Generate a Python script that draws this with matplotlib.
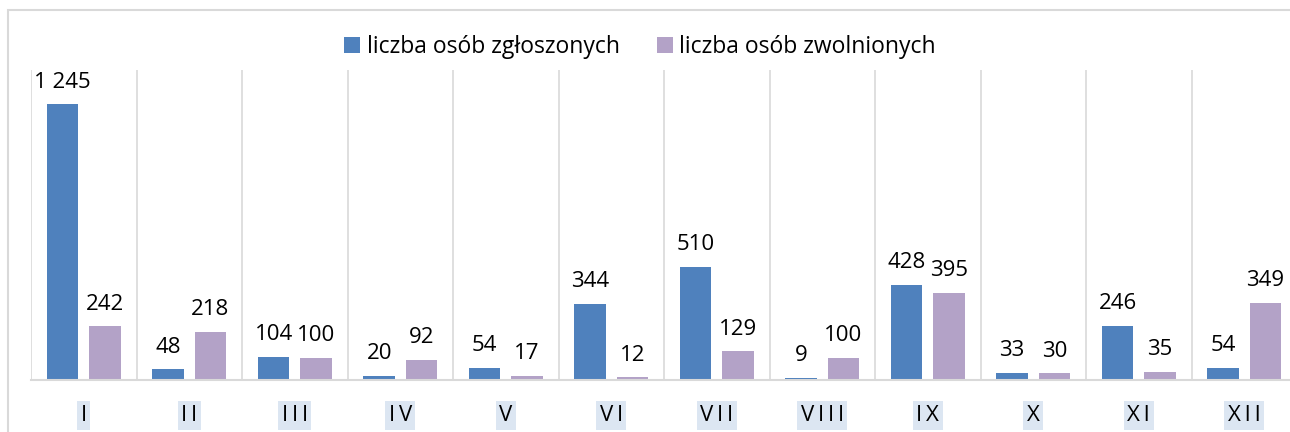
import matplotlib.pyplot as plt
import numpy as np
from matplotlib.patches import Rectangle

plt.rcParams['font.family'] = ['Open Sans', 'DejaVu Sans']

miesiace = ["I", "II", "III", "IV", "V", "VI", "VII", "VIII", "IX", "X", "XI", "XII"]
zgloszeni = [1245, 48, 104, 20, 54, 344, 510, 9, 428, 33, 246, 54]
zwolnieni = [242, 218, 100, 92, 17, 12, 129, 100, 395, 30, 35, 349]

kolor_zgl = "#4f81bd"
kolor_zwol = "#b3a2c7"

def fmt(v):
    return f"{v:,}".replace(",", " ")

fig = plt.figure(figsize=(12.9, 4.32), dpi=100)
ax = fig.add_axes([31 / 1290, 1 - 380 / 432, 1266 / 1290, 310 / 432])

x = np.arange(len(miesiace))
w = 0.3
b1 = ax.bar(x - 0.2, zgloszeni, w, color=kolor_zgl, label="liczba osób zgłoszonych")
b2 = ax.bar(x + 0.2, zwolnieni, w, color=kolor_zwol, label="liczba osób zwolnionych")

for bars, vals in ((b1, zgloszeni), (b2, zwolnieni)):
    for r, v in zip(bars, vals):
        ax.annotate(fmt(v), (r.get_x() + r.get_width() / 2, r.get_height()),
                    xytext=(0, 8.5), textcoords="offset points",
                    ha="center", va="bottom", fontsize=16)

for s in np.arange(-0.5, 12, 1):
    ax.axvline(s, color="#d9d9d9", lw=1.2, zorder=0)

ax.set_xlim(-0.5, 11.5)
ax.set_ylim(0, 1400)
ax.set_yticks([])
for sp in ("top", "right", "left"):
    ax.spines[sp].set_visible(False)
ax.spines["bottom"].set_color("#d9d9d9")
ax.spines["bottom"].set_linewidth(1.5)

ax.set_xticks(x)
ax.set_xticklabels(["\u2009".join(m) for m in miesiace], fontsize=16)
ax.tick_params(axis="x", length=0, pad=18)
for t in ax.get_xticklabels():
    t.set_bbox(dict(facecolor="#dce6f2", edgecolor="none", pad=2.5))

fig.legend(loc="center", bbox_to_anchor=(640 / 1290, 1 - 47 / 432), ncol=2,
           frameon=False, fontsize=16.5, handlelength=0.7, handleheight=0.7,
           handletextpad=0.3, columnspacing=1.6)

fig.patches.append(Rectangle((8 / 1290, -0.05), 1.1, 1 - 10 / 432 + 0.05,
                             transform=fig.transFigure, fill=False,
                             edgecolor="#d9d9d9", lw=1.5, zorder=-1))

fig.savefig("out.png", dpi=100)
